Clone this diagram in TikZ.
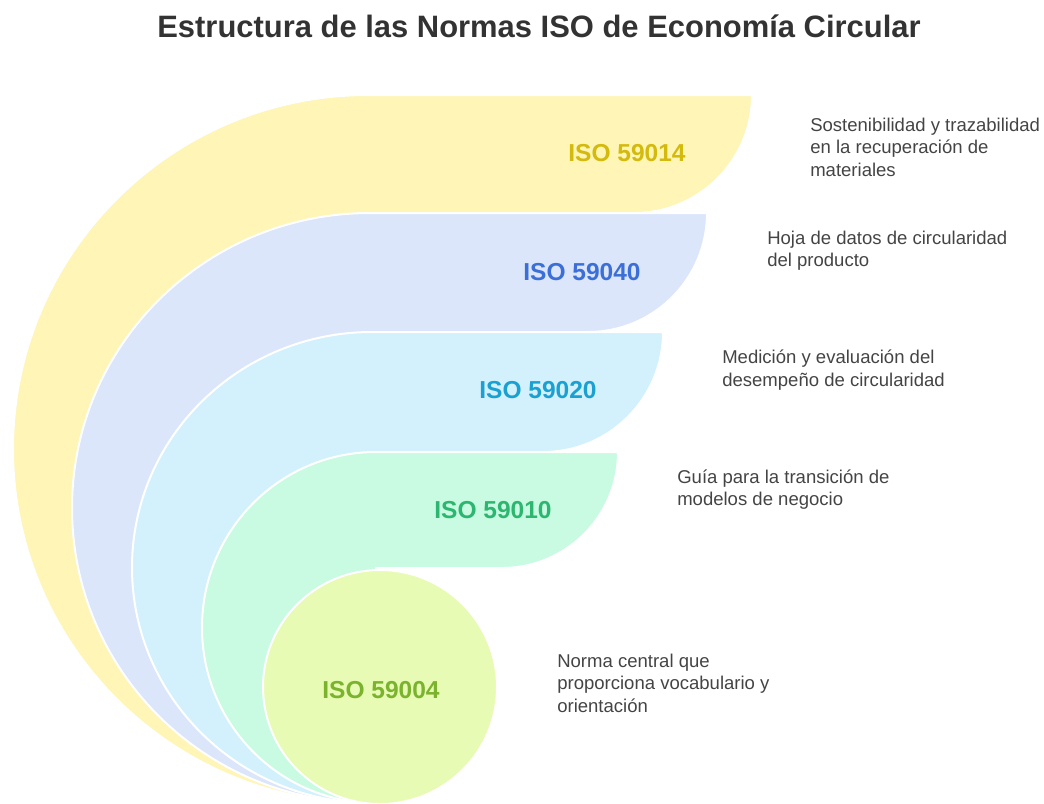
\documentclass[tikz,border=0pt]{standalone}
\usepackage{fontspec}
\setmainfont{Liberation Sans}
\definecolor{yfill}{HTML}{FEF5B6}
\definecolor{bfill}{HTML}{DBE6FB}
\definecolor{cfill}{HTML}{D3F1FC}
\definecolor{gfill}{HTML}{C8FBE1}
\definecolor{lfill}{HTML}{E7FBB4}
\definecolor{ytext}{HTML}{D3BA0C}
\definecolor{btext}{HTML}{3C6ED8}
\definecolor{ctext}{HTML}{1BA0D2}
\definecolor{gtext}{HTML}{2DB66F}
\definecolor{ltext}{HTML}{7BB22E}
\definecolor{desctext}{HTML}{444444}
\definecolor{ttl}{HTML}{333333}
\begin{document}
\begin{tikzpicture}[x=0.75pt,y=0.75pt,
  band/.style={draw=white, line width=1.5pt, line join=round},
  lbl/.style={font=\fontsize{18.4}{22}\selectfont\bfseries, inner sep=0pt},
  desc/.style={font=\fontsize{13.9}{16.9}\selectfont, text=desctext, align=left, anchor=west, inner sep=0pt}]
\useasboundingbox (0,0) rectangle (1044,-803);
% title
\node[font=\fontsize{23.2}{28}\selectfont\bfseries, text=ttl, anchor=base, inner sep=0pt] (title) at (539,-37) {Estructura de las Normas ISO de Economía Circular};
% bands
\path[band, fill=yfill] (368,-95) -- (752,-95) arc[start angle=0, end angle=-90, radius=118] -- (368,-213) -- (368,-803) arc[start angle=270, end angle=90, x radius=355, y radius=354] -- cycle;
\path[band, fill=bfill] (370,-213) -- (707,-213) arc[start angle=0, end angle=-90, radius=119] -- (370,-332) -- (370,-803) arc[start angle=270, end angle=90, x radius=298, y radius=295] -- cycle;
\path[band, fill=cfill] (372,-332) -- (663,-332) arc[start angle=0, end angle=-90, radius=120] -- (372,-452) -- (372,-803) arc[start angle=270, end angle=90, x radius=240, y radius=235.5] -- cycle;
\path[band, fill=gfill] (376,-452) -- (618,-452) arc[start angle=0, end angle=-90, radius=116] -- (376,-568) -- (376,-803) arc[start angle=270, end angle=90, x radius=174, y radius=175.5] -- cycle;
\path[band, fill=lfill] (380,-687) circle[radius=117];
% labels
\node[lbl, text=ytext] (l14) at (627,-153) {ISO 59014};
\node[lbl, text=btext] (l40) at (582,-272) {ISO 59040};
\node[lbl, text=ctext] (l20) at (538,-390) {ISO 59020};
\node[lbl, text=gtext] (l10) at (493,-510) {ISO 59010};
\node[lbl, text=ltext] (l04) at (381,-690) {ISO 59004};
% descriptions
\node[desc] (d14) at (810,-147) {Sostenibilidad y trazabilidad\\en la recuperación de\\materiales};
\node[desc] (d40) at (767,-250.5) {Hoja de datos de circularidad\\del producto};
\node[desc] (d20) at (722,-370) {Medición y evaluación del\\desempeño de circularidad};
\node[desc] (d10) at (677,-489.5) {Guía para la transición de\\modelos de negocio};
\node[desc] (d04) at (557,-683) {Norma central que\\proporciona vocabulario y\\orientación};
\end{tikzpicture}
\end{document}
